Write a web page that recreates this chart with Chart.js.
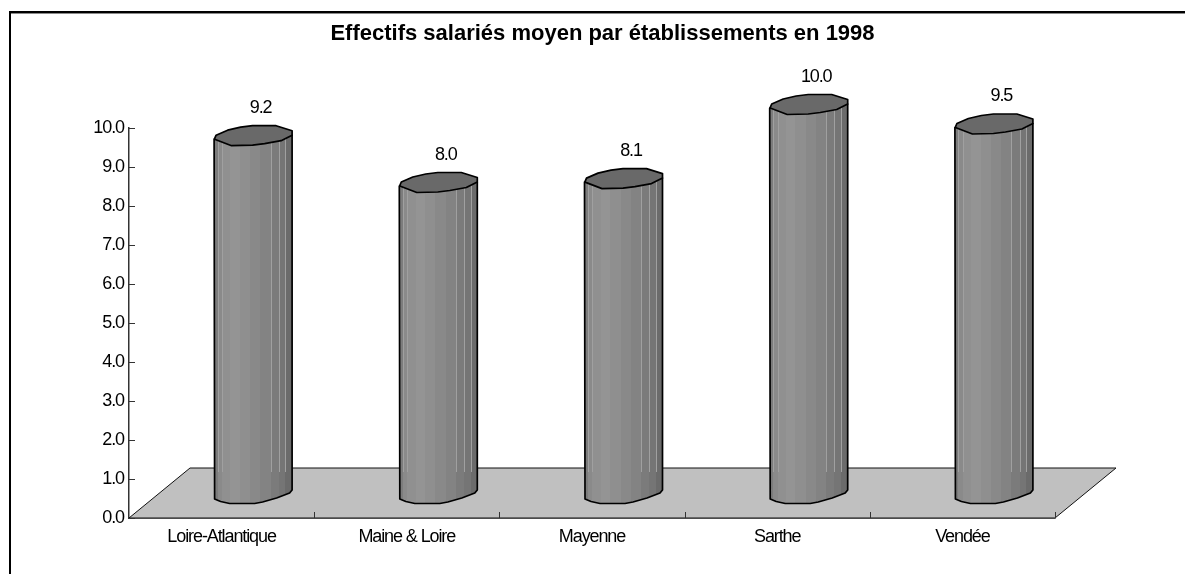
<!DOCTYPE html>
<html lang="fr">
<head>
<meta charset="utf-8">
<title>Effectifs salariés</title>
<style>html,body{margin:0;padding:0;background:#fff}canvas{display:block}</style>
<script src="https://cdn.jsdelivr.net/npm/chart.js@4"></script>
</head>
<body>
<canvas id="c" width="1185" height="574"></canvas>
<script>
const categories = ['Loire-Atlantique', 'Maine & Loire', 'Mayenne', 'Sarthe', 'Vendée'];
const effectifs = [9.2, 8.0, 8.1, 10.0, 9.5];
const yTicks = [0, 1, 2, 3, 4, 5, 6, 7, 8, 9, 10];
const titleText = 'Effectifs salariés moyen par établissements en 1998';

const FONT = '"Liberation Sans", Arial, sans-serif';
const TIGHT = '-1.1px';
const FLOOR = {dx: 61, dy: -50};
const BAR_SHIFT = {dx: 31, dy: -24};
const BANDS = [[0,'#7c7c7c'],[.052,'#8a8a8a'],[.107,'#909090'],[.215,'#949494'],[.335,'#8f8f8f'],[.47,'#898989'],[.6,'#838383'],[.73,'#7b7b7b'],[.835,'#757575'],[.92,'#6b6b6b']];
const GLINTS = [.052,.107,.73,.835,.92];
// faceted outline of the cylinder's ends, relative to its axis
const CAP_UPPER = [[-38,3.5],[-36.5,0],[-25,-5],[-12,-8],[0,-9.5],[23.5,-9.5],[39.5,-4.5]];
const CAP_LOWER = [[39.5,0],[28.5,5.5],[12,8.5],[0,10],[-21,10.5],[-38,4]];
const BASE_LOWER = [[39.5,-4],[37,-1],[24,4],[10,8],[2,9.5],[-23,9.5],[-32,7.5],[-38,5]];

function trace(path, pts, cx, cy, first) {
  pts.forEach(([dx, dy], k) => {
    if (k === 0 && first) path.moveTo(cx + dx, cy + dy);
    else path.lineTo(cx + dx, cy + dy);
  });
}

const cylinders = {
  id: 'cylinders',
  beforeDraw(chart) {
    const {ctx} = chart;
    Object.values(chart.scales).forEach(s => {
      if (s.$tight) return;
      const draw = s.drawLabels;
      s.drawLabels = function (a) {
        ctx.letterSpacing = TIGHT;
        draw.call(this, a);
        ctx.letterSpacing = '0px';
      };
      s.$tight = true;
    });
    ctx.save();
    ctx.fillStyle = '#8a8a8a';
    ctx.fillRect(9, 13, 1176, 1);
    ctx.fillStyle = '#000';
    ctx.fillRect(9, 11, 1176, 2);
    ctx.fillRect(9, 11, 2, 563);
    ctx.restore();
  },
  beforeDatasetsDraw(chart) {
    const {ctx, chartArea: a, scales} = chart;
    ctx.save();
    ctx.beginPath();
    ctx.moveTo(a.left, a.bottom);
    ctx.lineTo(a.left + FLOOR.dx, a.bottom + FLOOR.dy);
    ctx.lineTo(a.right + FLOOR.dx, a.bottom + FLOOR.dy);
    ctx.lineTo(a.right, a.bottom);
    ctx.closePath();
    ctx.fillStyle = '#c0c0c0';
    ctx.fill();
    ctx.strokeStyle = '#111';
    ctx.lineWidth = 1;
    ctx.stroke();
    ctx.strokeStyle = '#333';
    ctx.beginPath();
    scales.y.ticks.forEach((t, i) => {
      const y = Math.round(scales.y.getPixelForTick(i)) + .5;
      ctx.moveTo(a.left, y); ctx.lineTo(a.left + 6, y);
    });
    const bin = (a.right - a.left) / categories.length;
    for (let i = 1; i <= categories.length; i++) {
      const x = Math.round(a.left + bin * i) + .5;
      ctx.moveTo(x, a.bottom); ctx.lineTo(x, a.bottom - 6);
    }
    ctx.stroke();
    ctx.restore();
  },
  afterDatasetsDraw(chart) {
    const {ctx, chartArea: area} = chart;
    const floorY = area.bottom + FLOOR.dy;
    chart.getDatasetMeta(0).data.forEach((bar, i) => {
      const cx = bar.x + BAR_SHIFT.dx;
      const topY = bar.y + BAR_SHIFT.dy;
      const botY = bar.base + BAR_SHIFT.dy;
      const w = bar.width, l = cx - w / 2, r = cx + w / 2;
      const grad = ctx.createLinearGradient(l, 0, r, 0);
      BANDS.forEach(([s, c], k) => {
        grad.addColorStop(s, c);
        grad.addColorStop(k + 1 < BANDS.length ? BANDS[k + 1][0] : 1, c);
      });
      const body = new Path2D();
      body.moveTo(cx - 38.5, topY + 4);
      trace(body, BASE_LOWER.slice().reverse(), cx, botY, false);
      body.lineTo(cx + 39.5, topY);
      body.closePath();
      const cap = new Path2D();
      trace(cap, CAP_UPPER, cx, topY, true);
      trace(cap, CAP_LOWER, cx, topY, false);
      cap.closePath();

      ctx.save();
      ctx.lineJoin = 'round';
      ctx.fillStyle = grad;
      ctx.fill(body);
      ctx.save();
      ctx.clip(body);
      ctx.strokeStyle = '#a0a0a0';
      ctx.lineWidth = 1;
      ctx.beginPath();
      GLINTS.forEach(g => {
        const x = Math.round(l + g * w) + .5;
        ctx.moveTo(x, topY); ctx.lineTo(x, floorY + 4);
      });
      ctx.stroke();
      ctx.restore();
      ctx.strokeStyle = '#000';
      ctx.lineWidth = 1.7;
      ctx.stroke(body);
      ctx.fillStyle = '#696969';
      ctx.fill(cap);
      ctx.stroke(cap);

      ctx.fillStyle = '#000';
      ctx.font = '18px ' + FONT;
      ctx.letterSpacing = TIGHT;
      ctx.textAlign = 'center';
      ctx.textBaseline = 'middle';
      ctx.fillText(effectifs[i].toFixed(1), cx + 8, topY - 27);
      ctx.restore();
    });
  }
};

new Chart(document.getElementById('c'), {
  type: 'bar',
  data: {
    labels: categories,
    datasets: [{data: effectifs, backgroundColor: 'rgba(0,0,0,0)', borderWidth: 0,
      barPercentage: .4216, categoryPercentage: 1, clip: false}]
  },
  plugins: [cylinders],
  options: {
    responsive: false,
    animation: false,
    layout: {padding: {left: 20, right: 0, top: 0, bottom: 0}},
    plugins: {
      legend: {display: false},
      tooltip: {enabled: false},
      title: {display: true, text: titleText, color: '#000',
        font: {family: FONT, size: 22, weight: 'bold'},
        padding: {top: 21, bottom: 80.6}}
    },
    scales: {
      x: {
        type: 'category',
        grid: {display: false},
        border: {display: true, color: '#111', width: 1.5},
        ticks: {color: '#000', font: {family: FONT, size: 18}, padding: 0, maxRotation: 0, autoSkip: false},
        afterFit(s) { s.height = 56; }
      },
      y: {
        min: 0, max: 10,
        afterBuildTicks(s) { s.ticks = yTicks.map(v => ({value: v})); },
        grid: {display: false, drawTicks: false},
        border: {display: true, color: '#333', width: 1.5},
        ticks: {color: '#000', font: {family: FONT, size: 18}, padding: 5,
          callback: v => v.toFixed(1)},
        afterFit(s) { s.width = 109; }
      },
      spacer: {
        position: 'right',
        grid: {display: false, drawTicks: false},
        border: {display: false},
        ticks: {display: false},
        afterFit(s) { s.width = 130; }
      }
    }
  }
});
</script>
</body>
</html>
